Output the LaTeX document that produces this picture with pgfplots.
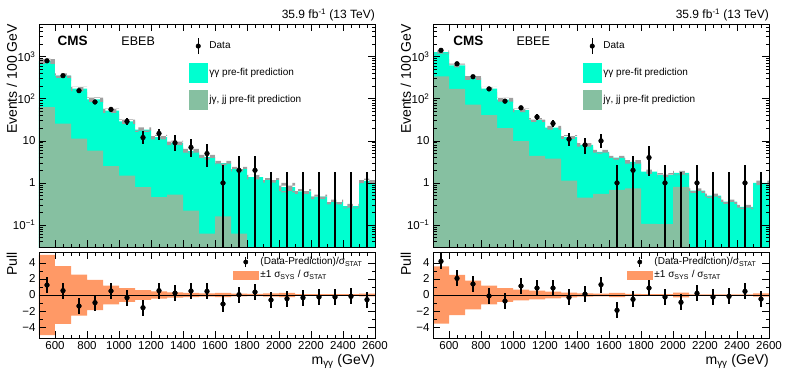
\documentclass[border=0pt]{standalone}
\usepackage{fontspec}
\setmainfont{Liberation Sans}
\usepackage{pgfplots}
\pgfplotsset{compat=1.18}
\usepackage{pgfplotstable}
\usetikzlibrary{patterns}

\definecolor{ggcol}{RGB}{0,255,208}
\definecolor{jgcol}{RGB}{134,192,161}
\definecolor{syscol}{RGB}{255,153,102}

% histograms: bin low edge, total prediction, jgamma+jj (first/last rows close the shape)
\pgfplotstableread{
x tot bkg
500 0.0001 0.0001
500 790 63
600 358 25.7
700 174 11.3
800 97 5.9
900 52.5 2.5
1000 29 1.5
1100 18.6 0.79
1200 12.3 0.46
1300 9.0 0.53
1400 5.7 0.22
1500 4.1 0.062
1600 2.95 0.16
1700 2.14 0.062
1800 1.37 0.0001
1900 1.16 0.0001
2000 0.8 0.0001
2100 0.63 0.0001
2200 0.47 0.0001
2300 0.35 0.0001
2400 0.28 0.0001
2500 1.12 0.0001
2600 1.12 0.0001
2600 0.0001 0.0001
}\ebebhist

% syst. band outline: upper edge left to right, lower edge right to left
\pgfplotstableread{
x y
500 900
600 405
700 196
800 110
900 59.3
1000 32.8
1100 21.0
1200 13.9
1300 10.2
1400 6.44
1500 4.63
1600 3.33
1700 2.42
1800 1.55
1900 1.31
2000 1.0
2100 0.71
2200 0.53
2300 0.40
2400 0.32
2500 1.27
2600 1.27
2600 0.99
2500 0.25
2400 0.31
2300 0.41
2200 0.55
2100 0.6
2000 1.02
1900 1.21
1800 1.89
1700 2.60
1600 3.61
1500 5.02
1400 7.9
1300 10.8
1200 16.4
1100 25.5
1000 46.2
900 85
800 153
700 315
600 680
500 680
}\ebebsys

\pgfplotstableread{
x n em ep
550 800 28 28
650 355 19 19
750 156 12.5 12.5
850 84 9.2 9.2
950 56 7.5 7.5
1050 29 5.4 5.4
1150 12 3.5 4.8
1250 15 4.5 4.5
1350 9 3.3 4.6
1450 7 2.9 3.9
1550 5 2.6 3.3
1650 1 0.999 1.6
1750 2 1.999 2.3
1850 2 1.999 2.3
}\ebebdata

\pgfplotstableread{
x n ep
1950 0.001 1.849
2050 0.001 1.849
2150 0.001 1.849
2250 0.001 1.849
2350 0.001 1.849
2450 0.001 1.849
2550 0.001 1.849
}\ebebzero

\pgfplotstableread{
x p
550 1.24
650 0.54
750 -1.37
850 -0.95
950 0.5
1050 -0.33
1150 -1.58
1250 0.54
1350 0.25
1450 0.5
1550 0.46
1650 -1.12
1750 0.04
1850 0.37
1950 -0.62
2050 -0.46
2150 -0.33
2250 -0.25
2350 -0.25
2450 -0.17
2550 -0.58
}\ebebpull

\pgfplotstableread{
x b
500 0
500 5.0
600 3.6
700 2.55
800 1.87
900 1.16
1000 0.87
1100 0.62
1200 0.46
1300 0.33
1400 0.25
1500 0.2
1600 0.25
1700 0.17
1800 0.15
1900 0.2
2000 0.25
2100 0.12
2200 0.1
2300 0.1
2400 0.1
2500 0.17
2600 0.17
2600 0
}\ebebband

\pgfplotstableread{
x tot bkg
500 0.0001 0.0001
500 1290 343
600 624 172
700 313 73
800 175 41
900 96 20
1000 54 9.8
1100 31.3 4.4
1200 20.6 3.8
1300 12.4 1.13
1400 8.05 0.45
1500 5.5 0.55
1600 4.0 0.68
1700 3.15 0.74
1800 1.86 0.107
1900 1.54 0.105
2000 1.73 0.81
2100 0.66 0.0001
2200 0.5 0.0001
2300 0.36 0.0001
2400 0.27 0.0001
2500 1.01 0.0001
2600 1.01 0.0001
2600 0.0001 0.0001
}\ebeehist

\pgfplotstableread{
x y
500 1420
600 690
700 345
800 193
900 106
1000 59.5
1100 34.5
1200 22.7
1300 13.7
1400 8.9
1500 6.08
1600 4.42
1700 3.5
1800 2.07
1900 1.71
2000 1.93
2100 0.74
2200 0.56
2300 0.40
2400 0.30
2500 1.13
2600 1.13
2600 0.89
2500 0.24
2400 0.32
2300 0.44
2200 0.58
2100 1.53
2000 1.37
1900 1.65
1800 2.8
1700 3.6
1600 4.95
1500 7.25
1400 11.1
1300 18.5
1200 28.1
1100 48.5
1000 86.2
900 157
800 281
700 560
600 1160
500 1160
}\ebeesys

\pgfplotstableread{
x n em ep
550 1420 38 38
650 680 26 26
750 335 18.3 18.3
850 172 13.1 13.1
950 88 9.4 9.4
1050 61 7.8 7.8
1150 37 6.1 6.1
1250 26 5.1 5.1
1350 11 3.5 4.6
1450 8 3.0 4.0
1550 10 3.1 4.8
1650 1 0.999 1.6
1750 2 1.999 2.3
1850 4 2.5 3.6
1950 1 0.999 1.6
2150 1 0.999 1.6
2450 1 0.999 1.6
}\ebeedata

\pgfplotstableread{
x n ep
2050 0.001 1.849
2250 0.001 1.849
2350 0.001 1.849
2550 0.001 1.849
}\ebeezero

\pgfplotstableread{
x p
550 4.19
650 2.07
750 1.37
850 -0.12
950 -0.75
1050 1.12
1150 0.87
1250 0.87
1350 -0.29
1450 0.12
1550 1.29
1650 -1.9
1750 -0.54
1850 0.87
1950 -0.25
2050 -0.91
2150 0.21
2250 -0.25
2350 -0.17
2450 0.46
2550 -0.5
}\ebeepull

\pgfplotstableread{
x b
500 0
500 3.55
600 2.5
700 1.78
800 1.16
900 0.87
1000 0.66
1100 0.54
1200 0.41
1300 0.29
1400 0.2
1500 0.17
1600 0.25
1700 0.15
1800 0.12
1900 0.12
2000 0.29
2100 0.08
2200 0.08
2300 0.08
2400 0.08
2500 0.2
2600 0.2
2600 0
}\ebeeband

\pgfplotsset{
  cmsaxis/.style={
    scale only axis, width=336pt, anchor=north west,
    xmin=500, xmax=2600, axis on top,
    axis line style={line width=0.9pt},
    tick style={black, line width=0.7pt},
    major tick length=7pt, minor tick length=3.5pt,
    tick label style={font=\fontsize{11.5}{12}\selectfont},
    xtick={600,800,...,2600}, minor x tick num=3,
    every axis y label/.style={at={(axis description cs:-0.065,1)}, rotate=90,
      anchor=south east, inner sep=0pt, font=\fontsize{14}{15}\selectfont},
    every axis x label/.style={at={(axis description cs:1,-0.19)},
      anchor=north east, inner sep=0pt, font=\fontsize{14}{15}\selectfont},
    legend cell align=left,
  },
  mainaxis/.style={
    height=223pt, ymin=0.03, ymax=6000,
    xticklabels={},
    ytick={0.1,1,10,100,1000},
    yticklabels={10\textsuperscript{−1},1,10,10\textsuperscript{2},10\textsuperscript{3}},
    minor ytick={0.03,0.04,0.05,0.06,0.07,0.08,0.09,0.2,0.3,0.4,0.5,0.6,0.7,0.8,0.9,
      2,3,4,5,6,7,8,9,20,30,40,50,60,70,80,90,200,300,400,500,600,700,800,900,
      2000,3000,4000,5000,6000},
    ylabel={Events / 100 GeV},
    title={35.9 fb\textsuperscript{-1} (13 TeV)},
    title style={at={(1,1)}, anchor=south east, inner sep=0pt, yshift=-3.5pt,
      font=\fontsize{12}{13}\selectfont},
    legend style={at={(0.446,0.94)}, anchor=north west, draw=none,
      fill=none, inner sep=0pt, row sep=8pt, font=\fontsize{10}{11}\selectfont},
  },
  pullaxis/.style={
    height=86pt, ymin=-5.35, ymax=5.35,
    ytick={-4,-2,0,2,4}, yticklabels={−4,−2,0,2,4}, minor y tick num=1,
    xticklabels={600,800,1000,1200,1400,1600,1800,2000,2200,2400,2600},
    ylabel={Pull}, xlabel={m\textsubscript{γγ} (GeV)},
    legend style={at={(0.577,0.96)}, anchor=north west, draw=none,
      fill=none, inner sep=0pt, row sep=0pt, font=\fontsize{10}{10.5}\selectfont},
  },
  bandstyle/.style={const plot, pattern=checkerboard, pattern color=gray!75,
    draw=none, forget plot},
  datastyle/.style={only marks, mark=*, mark size=2.4pt, black, forget plot,
    error bars/y dir=both, error bars/y explicit, error bars/error mark=none,
    error bars/error bar style={line width=1.1pt, black}},
  zerostyle/.style={only marks, mark=none, forget plot,
    error bars/y dir=plus, error bars/y explicit, error bars/error mark=none,
    error bars/error bar style={line width=1.1pt, black}},
  pullstyle/.style={only marks, mark=*, mark size=2.4pt, black, forget plot,
    error bars/y dir=both, error bars/y fixed=1, error bars/error mark=none,
    error bars/error bar style={line width=1.1pt, black}},
}

\newcommand{\mainlegend}{%
  \addlegendimage{legend image code/.code={\draw[black,line width=1pt] (9pt,-8pt)--(9pt,8pt);
    \fill[black] (9pt,0pt) circle (2.3pt);}}
  \addlegendentry{Data}
  \addlegendimage{legend image code/.code={\fill[ggcol] (0pt,-9.5pt) rectangle (18pt,9.5pt);}}
  \addlegendentry{γγ pre-fit prediction}
  \addlegendimage{legend image code/.code={\fill[jgcol] (0pt,-9.5pt) rectangle (18pt,9.5pt);}}
  \addlegendentry{jγ, jj pre-fit prediction}%
}
\newcommand{\pulllegend}{%
  \addlegendimage{legend image code/.code={\draw[black,line width=1pt] (12.5pt,-5pt)--(12.5pt,5pt);
    \fill[black] (12.5pt,0pt) circle (2.2pt);}}
  \addlegendentry{(Data-Prediction)/σ\textsubscript{STAT}}
  \addlegendimage{legend image code/.code={\fill[syscol] (0pt,-4pt) rectangle (25pt,4pt);}}
  \addlegendentry{±1 σ\textsubscript{SYS} / σ\textsubscript{STAT}}%
}

\begin{document}
\begin{tikzpicture}
\useasboundingbox (0pt,0pt) rectangle (789pt,-383pt);

% ---- EBEB ----
\begin{semilogyaxis}[cmsaxis, mainaxis, at={(39pt,-24pt)}]
\mainlegend
\addplot[const plot, fill=ggcol, draw=none, forget plot] table[x=x, y=tot] {\ebebhist};
\addplot[const plot, fill=jgcol, draw=none, forget plot] table[x=x, y=bkg] {\ebebhist};
\addplot[bandstyle] table[x=x, y=y] {\ebebsys};
\addplot[zerostyle] table[x=x, y=n, y error plus=ep] {\ebebzero};
\addplot[datastyle] table[x=x, y=n, y error minus=em, y error plus=ep] {\ebebdata};
\node[anchor=west, font=\bfseries\fontsize{13.5}{14}\selectfont] at (rel axis cs:0.045,0.925) {CMS};
\node[anchor=west, font=\fontsize{12.5}{13}\selectfont] at (rel axis cs:0.235,0.925) {EBEB};
\end{semilogyaxis}

\begin{axis}[cmsaxis, pullaxis, at={(39pt,-252pt)}]
\pulllegend
\addplot[const plot, fill=syscol, draw=none, forget plot] table[x=x, y=b] {\ebebband};
\addplot[const plot, fill=syscol, draw=none, forget plot] table[x=x, y expr=-\thisrow{b}] {\ebebband};
\addplot[black, line width=0.9pt, forget plot] coordinates {(500,0) (2600,0)};
\addplot[pullstyle] table[x=x, y=p] {\ebebpull};
\end{axis}

% ---- EBEE ----
\begin{semilogyaxis}[cmsaxis, mainaxis, at={(433pt,-24pt)}]
\mainlegend
\addplot[const plot, fill=ggcol, draw=none, forget plot] table[x=x, y=tot] {\ebeehist};
\addplot[const plot, fill=jgcol, draw=none, forget plot] table[x=x, y=bkg] {\ebeehist};
\addplot[bandstyle] table[x=x, y=y] {\ebeesys};
\addplot[zerostyle] table[x=x, y=n, y error plus=ep] {\ebeezero};
\addplot[datastyle] table[x=x, y=n, y error minus=em, y error plus=ep] {\ebeedata};
\node[anchor=west, font=\bfseries\fontsize{13.5}{14}\selectfont] at (rel axis cs:0.05,0.925) {CMS};
\node[anchor=west, font=\fontsize{12.5}{13}\selectfont] at (rel axis cs:0.238,0.925) {EBEE};
\end{semilogyaxis}

\begin{axis}[cmsaxis, pullaxis, at={(433pt,-252pt)}]
\pulllegend
\addplot[const plot, fill=syscol, draw=none, forget plot] table[x=x, y=b] {\ebeeband};
\addplot[const plot, fill=syscol, draw=none, forget plot] table[x=x, y expr=-\thisrow{b}] {\ebeeband};
\addplot[black, line width=0.9pt, forget plot] coordinates {(500,0) (2600,0)};
\addplot[pullstyle] table[x=x, y=p] {\ebeepull};
\end{axis}
\end{tikzpicture}
\end{document}
